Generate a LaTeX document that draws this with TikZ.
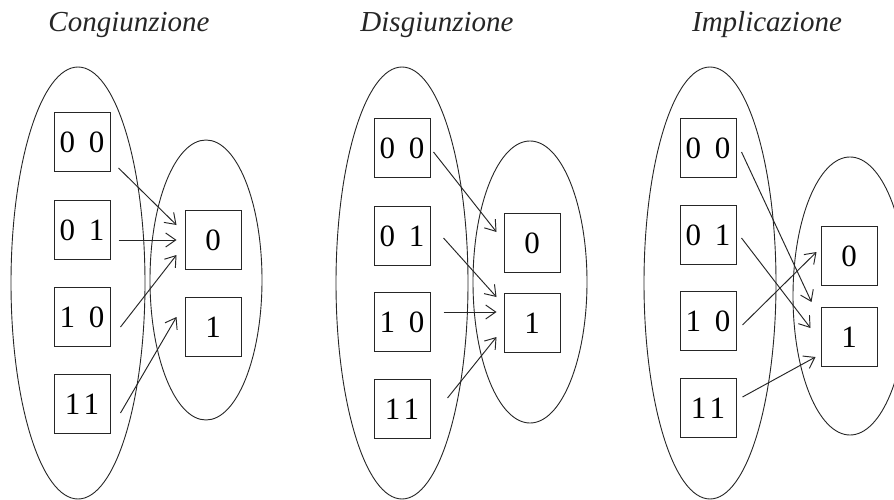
\documentclass[tikz,border=0pt]{standalone}
\usepackage{fontspec}
\setmainfont{Liberation Serif}
\usetikzlibrary{arrows.meta}
\begin{document}
\begin{tikzpicture}[x=1pt,y=-1pt,
  line width=0.9pt,
  valbox/.style={draw=black!85,line width=1pt,minimum width=56pt,minimum height=59pt,inner sep=0pt,font=\fontsize{31}{31}\selectfont},
  ttl/.style={font=\fontsize{29}{29}\selectfont\itshape,text=black!85},
  arr/.style={-{Straight Barb[length=10pt,width=14pt]},line width=0.95pt,draw=black!85},
  setell/.style={draw=black!85,line width=0.9pt}]
\useasboundingbox (0,0) rectangle (894,500);
\clip (0,0) rectangle (894,500);
\fill[white] (0,0) rectangle (894,500);

% ---------- Congiunzione ----------
\node[ttl] (t1) at (129,25) {Congiunzione};
\draw[setell] (78,283) ellipse [x radius=67pt, y radius=216pt];
\draw[setell] (206,280) ellipse [x radius=56pt, y radius=140pt];
\node[valbox] (c00) at (82,142) {0\hspace{0.45em}0};
\node[valbox] (c01) at (82,230) {0\hspace{0.45em}1};
\node[valbox] (c10) at (82,317) {1\hspace{0.45em}0};
\node[valbox] (c11) at (82,404) {1\hspace{0.1em}1};
\node[valbox] (c0) at (213,240) {0};
\node[valbox] (c1) at (213,327) {1};
\draw[arr] ([xshift=8pt,yshift=-26pt]c00.east) -- ([xshift=-8pt,yshift=15pt]c0.west);
\draw[arr] ([xshift=8pt,yshift=-10pt]c01.east) -- ([xshift=-8pt]c0.west);
\draw[arr] ([xshift=10pt,yshift=-10pt]c10.east) -- ([xshift=-8pt,yshift=-15pt]c0.west);
\draw[arr] ([xshift=10pt,yshift=-9pt]c11.east) -- ([xshift=-8pt,yshift=10pt]c1.west);

% ---------- Disgiunzione ----------
\node[ttl] (t2) at (437,25) {Disgiunzione};
\draw[setell] (402,283) ellipse [x radius=66pt, y radius=216pt];
\draw[setell] (530,282) ellipse [x radius=57pt, y radius=141pt];
\node[valbox] (d00) at (402,148) {0\hspace{0.45em}0};
\node[valbox] (d01) at (402,236) {0\hspace{0.45em}1};
\node[valbox] (d10) at (402,322) {1\hspace{0.45em}0};
\node[valbox] (d11) at (402,409) {1\hspace{0.1em}1};
\node[valbox] (d0) at (532,243) {0};
\node[valbox] (d1) at (532,323) {1};
\draw[arr] ([xshift=3pt,yshift=-4pt]d00.east) -- ([xshift=-7pt,yshift=11pt]d0.west);
\draw[arr] ([xshift=13pt,yshift=-2pt]d01.east) -- ([xshift=-7pt,yshift=26pt]d1.west);
\draw[arr] ([xshift=13pt,yshift=10pt]d10.east) -- ([xshift=-7pt,yshift=11pt]d1.west);
\draw[arr] ([xshift=17pt,yshift=11pt]d11.east) -- ([xshift=-7pt,yshift=-14pt]d1.west);

% ---------- Implicazione ----------
\node[ttl] (t3) at (767,25) {Implicazione};
\draw[setell] (710,283) ellipse [x radius=66pt, y radius=216pt];
\draw[setell] (850,296) ellipse [x radius=57pt, y radius=139pt];
\node[valbox] (i00) at (708,148) {0\hspace{0.45em}0};
\node[valbox] (i01) at (708,235) {0\hspace{0.45em}1};
\node[valbox] (i10) at (708,321) {1\hspace{0.45em}0};
\node[valbox] (i11) at (708,408) {1\hspace{0.1em}1};
\node[valbox] (i0) at (849,256) {0};
\node[valbox] (i1) at (849,337) {1};
\draw[arr] ([xshift=5pt,yshift=-4pt]i00.east) -- ([xshift=-9pt,yshift=35pt]i1.west);
\draw[arr] ([xshift=5pt,yshift=-3pt]i01.east) -- ([xshift=-10pt,yshift=9pt]i1.west);
\draw[arr] ([xshift=6pt,yshift=-4pt]i10.east) -- ([xshift=-4pt,yshift=4pt]i0.west);
\draw[arr] ([xshift=6pt,yshift=11pt]i11.east) -- ([xshift=-5pt,yshift=-20pt]i1.west);
\end{tikzpicture}
\end{document}
